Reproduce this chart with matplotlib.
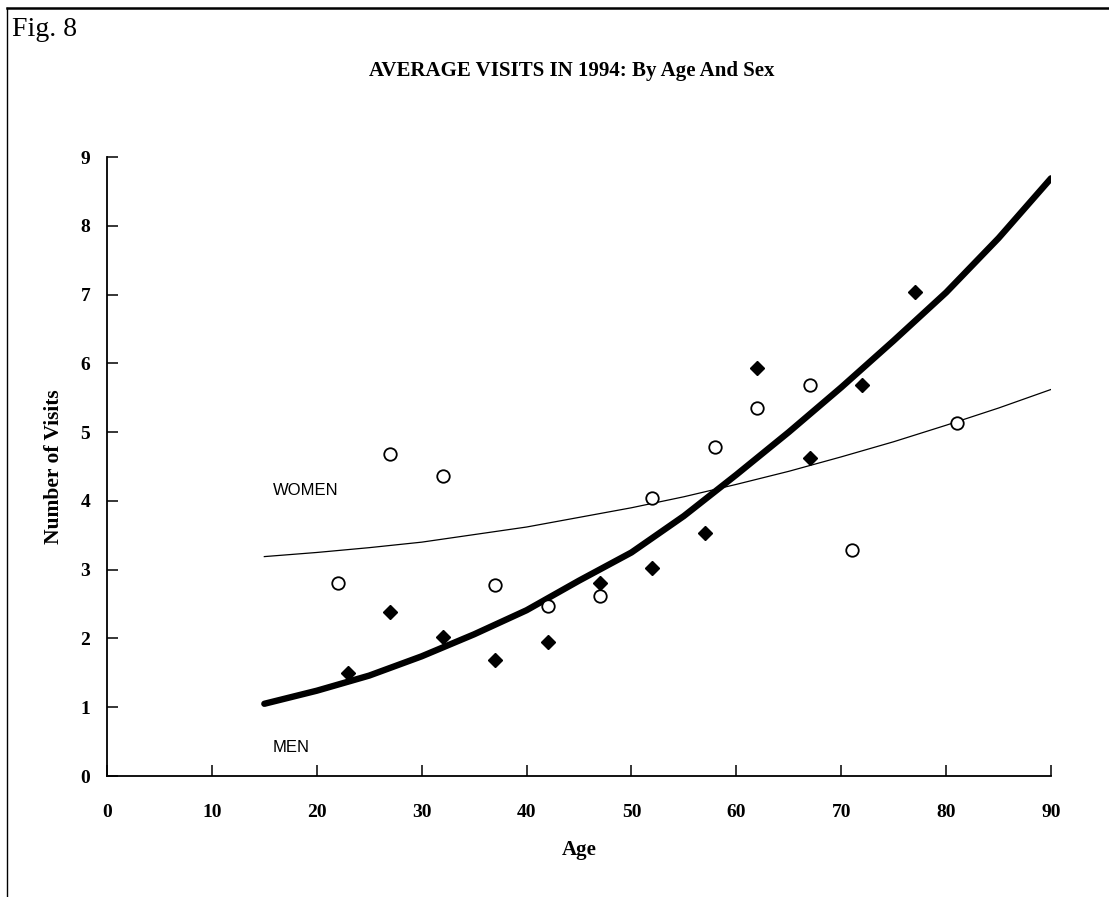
import matplotlib
matplotlib.use("Agg")
import matplotlib.pyplot as plt
from matplotlib.lines import Line2D
import numpy as np

# scatter data: average visits per person, by age group
men_age = [23, 27, 32, 37, 42, 47, 52, 57, 62, 67, 72, 77]
men_visits = [1.50, 2.39, 2.02, 1.68, 1.95, 2.80, 3.02, 3.54, 5.93, 4.62, 5.69, 7.03]

women_age = [22, 27, 32, 37, 42, 47, 52, 58, 62, 67, 71, 81]
women_visits = [2.81, 4.68, 4.36, 2.77, 2.47, 2.62, 4.04, 4.78, 5.35, 5.69, 3.28, 5.13]

# fitted trend curves
trend_age = [15, 20, 25, 30, 35, 40, 45, 50, 55, 60, 65, 70, 75, 80, 85, 90]
men_trend = [1.05, 1.24, 1.46, 1.74, 2.06, 2.41, 2.84, 3.25, 3.78, 4.38,
             5.00, 5.65, 6.33, 7.03, 7.82, 8.69]
women_trend = [3.19, 3.25, 3.32, 3.40, 3.51, 3.62, 3.76, 3.90, 4.06, 4.24,
               4.43, 4.64, 4.86, 5.10, 5.35, 5.62]

x_ticks = list(range(0, 91, 10))
y_ticks = list(range(0, 10))

serif = "Liberation Serif"
sans = "Liberation Sans"

W, H = 1109, 897
fig = plt.figure(figsize=(W / 100, H / 100), dpi=100)
fig.patch.set_facecolor("white")

# axes box in pixels: x 107..1051, y 157..776
ax = fig.add_axes([107 / W, 1 - 776 / H, (1051 - 107) / W, (776 - 157) / H])

ax.plot(trend_age, women_trend, color="black", lw=0.9, zorder=2)
ax.plot(trend_age, men_trend, color="black", lw=4.6, solid_capstyle="round",
        solid_joinstyle="round", zorder=2)
ax.plot(women_age, women_visits, ls="none", marker="o", ms=9,
        mfc="white", mec="black", mew=1.3, zorder=3)
ax.plot(men_age, men_visits, ls="none", marker="D", ms=6.8,
        mfc="black", mec="black", zorder=3)

ax.set_xlim(0, 90)
ax.set_ylim(0, 9)
ax.set_xticks(x_ticks)
ax.set_yticks(y_ticks)
ax.spines["top"].set_visible(False)
ax.spines["right"].set_visible(False)
for s in ("left", "bottom"):
    ax.spines[s].set_linewidth(1.3)
ax.tick_params(direction="in", length=8, width=1.1, pad=12)
ax.tick_params(axis="x", pad=20)
for lab in ax.get_xticklabels() + ax.get_yticklabels():
    lab.set_fontfamily(serif)
    lab.set_fontweight("bold")
    lab.set_fontsize(14)

ax.set_xlabel("Age", fontfamily=serif, fontweight="bold", fontsize=15, labelpad=14)
ax.set_ylabel("Number of Visits", fontfamily=serif, fontweight="bold", fontsize=15.5,
              labelpad=12)

ax.text(15.8, 4.15, "WOMEN", fontfamily=sans, fontsize=12, va="center", ha="left")
ax.text(15.8, 0.42, "MEN", fontfamily=sans, fontsize=12, va="center", ha="left")

fig.text(572 / W, 1 - 71 / H, "AVERAGE VISITS IN 1994: By Age And Sex",
         fontfamily=serif, fontweight="bold", fontsize=15, ha="center", va="center")
fig.text(12 / W, 1 - 30 / H, "Fig. 8", fontfamily=serif, fontsize=20,
         ha="left", va="center")

# page frame: top and left edges
fig.add_artist(Line2D([7 / W, 1], [1 - 8 / H, 1 - 8 / H], color="black", lw=1.8,
                      transform=fig.transFigure))
fig.add_artist(Line2D([7 / W, 7 / W], [0, 1 - 8 / H], color="black", lw=1.0,
                      transform=fig.transFigure))

fig.savefig("out.png", dpi=100, facecolor="white")
